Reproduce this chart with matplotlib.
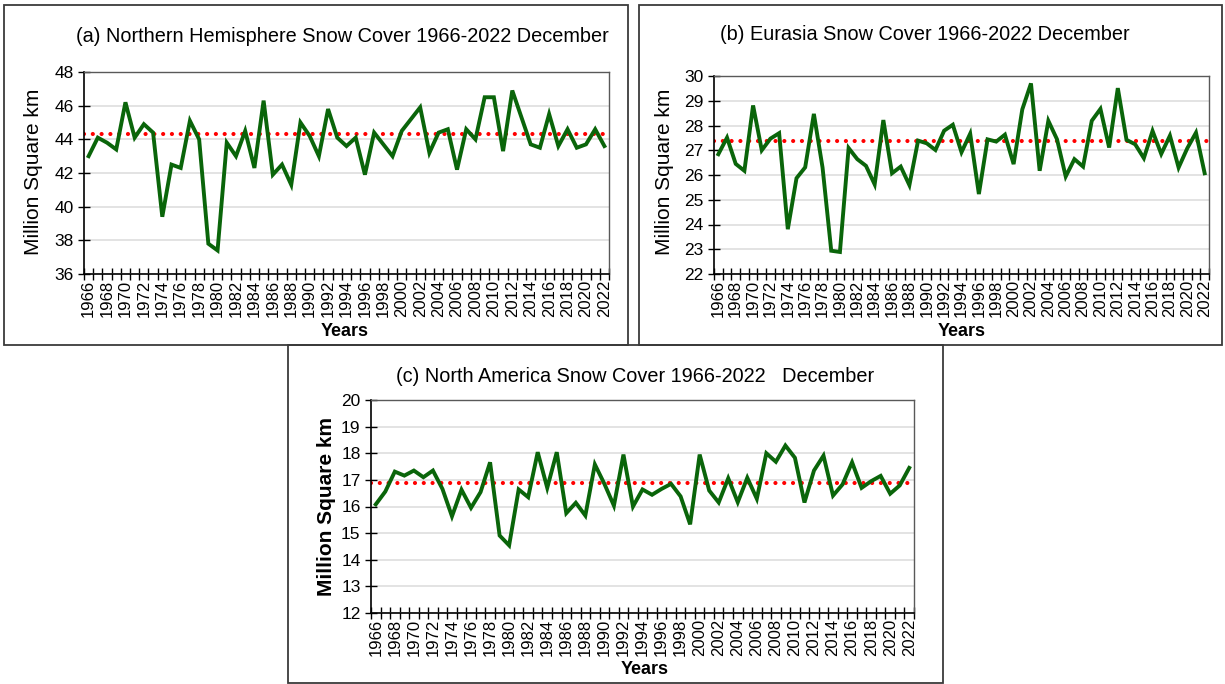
import numpy as np
import matplotlib
matplotlib.use("Agg")
import matplotlib.pyplot as plt
from matplotlib.patches import Rectangle

plt.rcParams['font.family'] = ['Liberation Sans', 'DejaVu Sans']

years = list(range(1966, 2023))

# December snow cover extent, million km^2
nh_cover = [43.0, 44.1, 43.8, 43.4, 46.2, 44.1, 44.9, 44.4, 39.4, 42.5,
            42.3, 45.1, 44.0, 37.8, 37.4, 43.8, 43.0, 44.5, 42.3, 46.3,
            41.9, 42.5, 41.3, 45.0, 44.2, 43.0, 45.8, 44.1, 43.6, 44.1,
            41.9, 44.4, 43.7, 43.0, 44.5, 45.2, 45.9, 43.2, 44.4, 44.6,
            42.2, 44.6, 44.0, 46.5, 46.5, 43.3, 46.9, 45.3, 43.7, 43.5,
            45.5, 43.6, 44.6, 43.5, 43.7, 44.6, 43.6]
nh_mean = 44.3

eu_cover = [26.84, 27.51, 26.45, 26.17, 28.81, 27.0, 27.47, 27.69, 23.81, 25.87,
            26.31, 28.47, 26.3, 22.94, 22.89, 27.09, 26.64, 26.37, 25.62, 28.22,
            26.07, 26.34, 25.59, 27.39, 27.28, 27.01, 27.79, 28.03, 26.92, 27.67,
            25.23, 27.44, 27.35, 27.63, 26.44, 28.65, 29.70, 26.17, 28.19, 27.44,
            25.94, 26.64, 26.34, 28.19, 28.67, 27.11, 29.51, 27.42, 27.24, 26.68,
            27.78, 26.85, 27.59, 26.30, 27.08, 27.71, 26.07]
eu_mean = 27.38

na_cover = [16.08, 16.56, 17.31, 17.16, 17.35, 17.1, 17.35, 16.66, 15.63, 16.63,
            15.95, 16.54, 17.66, 14.91, 14.54, 16.64, 16.35, 18.04, 16.7, 18.04,
            15.75, 16.14, 15.66, 17.58, 16.85, 16.03, 17.95, 16.0, 16.64, 16.44,
            16.66, 16.85, 16.38, 15.33, 17.95, 16.6, 16.15, 17.06, 16.16, 17.08,
            16.29, 18.0, 17.68, 18.29, 17.83, 16.15, 17.35, 17.91, 16.41, 16.83,
            17.66, 16.7, 16.95, 17.15, 16.48, 16.79, 17.45]
na_mean = 16.9

W, H = 1225, 684
fig = plt.figure(figsize=(W / 100, H / 100), dpi=100)


def px_axes(left, top, right, bottom):
    return fig.add_axes([left / W, 1 - bottom / H, (right - left) / W, (bottom - top) / H])


def frame(left, top, right, bottom):
    fig.patches.append(Rectangle((left / W, 1 - bottom / H), (right - left) / W,
                                 (bottom - top) / H, transform=fig.transFigure,
                                 fill=False, edgecolor='#3a3a3a', linewidth=1.3))


def snow_panel(ax, values, mean, ymin, ymax, ystep):
    x = np.arange(len(years))
    ax.set_xlim(-0.5, len(years) - 0.5)
    ax.set_ylim(ymin, ymax)
    ax.set_yticks(np.arange(ymin, ymax + ystep / 2, ystep))
    ax.yaxis.grid(True, color='#dedede', linewidth=1.2)
    ax.set_axisbelow(True)
    ax.axhline(mean, color='red', linestyle=(0, (0.01, 2.1)), linewidth=3.0,
               dash_capstyle='round', zorder=2)
    ax.plot(x, values, color='#0a650a', linewidth=2.8, zorder=3,
            solid_joinstyle='miter')
    ax.set_xticks(x[::2])
    ax.set_xticklabels([str(y) for y in years[::2]], rotation=90, fontsize=12)
    ax.set_xticks(np.arange(len(years) + 1) - 0.5, minor=True)
    ax.tick_params(axis='x', which='major', length=0, pad=4)
    ax.tick_params(axis='x', which='minor', direction='inout', length=9, width=1)
    ax.tick_params(axis='y', direction='inout', length=9, width=1, labelsize=12.5, pad=3)
    for s in ['left', 'bottom']:
        ax.spines[s].set_color('black')
        ax.spines[s].set_linewidth(1.2)
    for s in ['top', 'right']:
        ax.spines[s].set_color('#595959')
        ax.spines[s].set_linewidth(1.0)


# (a) Northern Hemisphere
frame(4, 5, 628, 345)
ax1 = px_axes(84, 72, 609, 274)
snow_panel(ax1, nh_cover, nh_mean, 36, 48, 2)
fig.text(342 / W, 1 - 37 / H, '(a) Northern Hemisphere Snow Cover 1966-2022 December',
         ha='center', va='center', fontsize=14.3)
fig.text(34 / W, 1 - 172 / H, 'Million Square km', rotation=90,
         ha='center', va='center', fontsize=15)
fig.text(345 / W, 1 - 331 / H, 'Years', ha='center', va='center',
         fontsize=13, fontweight='bold')

# (b) Eurasia
frame(639, 5, 1222, 345)
ax2 = px_axes(714, 76, 1209, 274)
snow_panel(ax2, eu_cover, eu_mean, 22, 30, 1)
fig.text(925 / W, 1 - 35 / H, '(b) Eurasia Snow Cover 1966-2022 December',
         ha='center', va='center', fontsize=14.3)
fig.text(665 / W, 1 - 172 / H, 'Million Square km', rotation=90,
         ha='center', va='center', fontsize=15)
fig.text(962 / W, 1 - 331 / H, 'Years', ha='center', va='center',
         fontsize=13, fontweight='bold')

# (c) North America
frame(288, 345, 943, 683)
ax3 = px_axes(371, 400, 914, 613)
snow_panel(ax3, na_cover, na_mean, 12, 20, 1)
fig.text(635 / W, 1 - 377 / H, '(c) North America Snow Cover 1966-2022   December',
         ha='center', va='center', fontsize=14.3)
fig.text(326 / W, 1 - 506 / H, 'Million Square km', rotation=90,
         ha='center', va='center', fontsize=15, fontweight='bold')
fig.text(645 / W, 1 - 670 / H, 'Years', ha='center', va='center',
         fontsize=13, fontweight='bold')

fig.savefig('out.png', dpi=100)
